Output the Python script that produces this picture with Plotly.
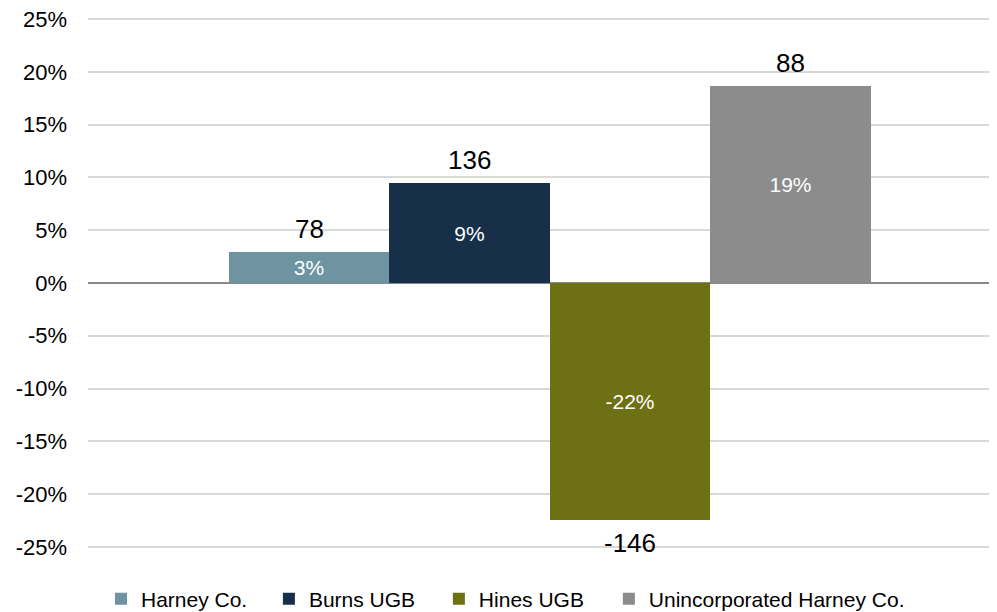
import plotly.graph_objects as go

categories = ["Harney Co.", "Burns UGB", "Hines UGB", "Unincorporated Harney Co."]
pct_change = [0.029, 0.095, -0.225, 0.187]
pct_labels = ["3%", "9%", "-22%", "19%"]
abs_change = [78, 136, -146, 88]
colors = ["#6E93A1", "#172F48", "#6E7014", "#8C8C8C"]
tick_vals = [0.25, 0.20, 0.15, 0.10, 0.05, 0.0, -0.05, -0.10, -0.15, -0.20, -0.25]
tick_text = ["25%", "20%", "15%", "10%", "5%", "0%", "-5%", "-10%", "-15%", "-20%", "-25%"]

FONT = "Liberation Sans, Arial, sans-serif"
legend_ids = ["legend", "legend2", "legend3", "legend4"]
legend_x = [0.0143, 0.199, 0.386, 0.573]

fig = go.Figure()
for cat, v, lab, c, lg in zip(categories, pct_change, pct_labels, colors, legend_ids):
    fig.add_trace(go.Bar(
        x=[cat], y=[v], name=cat, marker=dict(color=c, line=dict(width=0)),
        text=[lab], textposition="inside", insidetextanchor="middle",
        textangle=0,
        textfont=dict(color="white", size=21, family=FONT),
        width=1, hoverinfo="skip", legend=lg,
    ))

for cat, v, n in zip(categories, pct_change, abs_change):
    fig.add_annotation(
        x=cat, y=v, text=str(n), showarrow=False,
        yanchor="bottom" if v >= 0 else "top",
        yshift=6 if v >= 0 else -6,
        font=dict(size=26, color="black", family=FONT),
    )

legend_style = dict(orientation="h", xanchor="left", y=-0.092, yanchor="middle",
                    font=dict(size=21, family=FONT, color="black"),
                    bgcolor="rgba(0,0,0,0)", itemwidth=30)

fig.update_layout(
    width=989, height=604,
    margin=dict(l=80, r=0, t=8, b=62, autoexpand=False),
    plot_bgcolor="white", paper_bgcolor="white",
    barmode="overlay", bargap=0,
    showlegend=True,
    legend=dict(x=legend_x[0], **legend_style),
    legend2=dict(x=legend_x[1], **legend_style),
    legend3=dict(x=legend_x[2], **legend_style),
    legend4=dict(x=legend_x[3], **legend_style),
    xaxis=dict(type="category", categoryorder="array", categoryarray=categories,
               range=[-1.377, 4.286], showticklabels=False, showgrid=False,
               zeroline=False, showline=False, ticks=""),
    yaxis=dict(range=[-0.253, 0.253], tickvals=tick_vals, ticktext=tick_text,
               showgrid=True, gridcolor="#D9D9D9", gridwidth=1.5,
               zeroline=True, zerolinecolor="#888888", zerolinewidth=2,
               tickfont=dict(size=22, family=FONT, color="black"),
               ticks="", showline=False, automargin=False, ticklabelstandoff=20,
               ticklabeloverflow="allow"),
)

fig.write_html("out.html")
